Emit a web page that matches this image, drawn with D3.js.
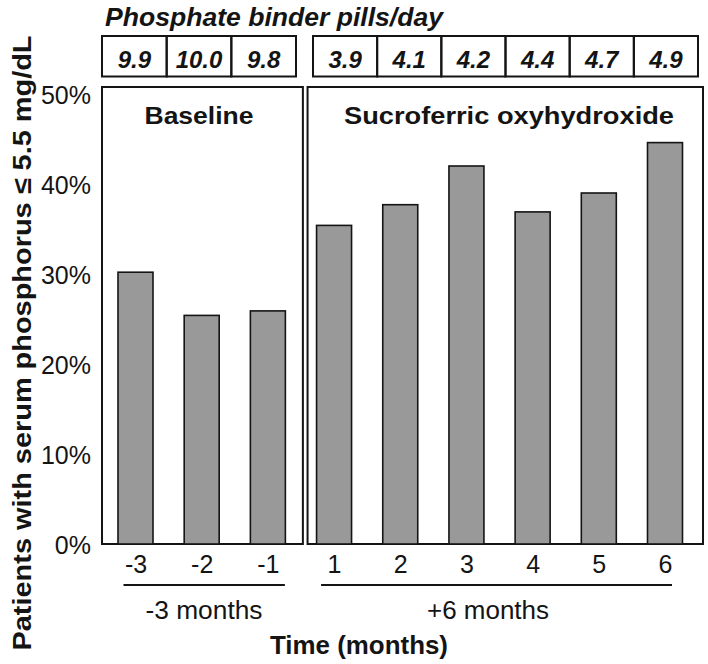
<!DOCTYPE html>
<html>
<head>
<meta charset="utf-8">
<script src="https://cdn.jsdelivr.net/npm/d3@7"></script>
<style>
  html, body { margin: 0; padding: 0; background: #fff; }
  svg { display: block; font-family: "Liberation Sans", Arial, Helvetica, sans-serif; }
</style>
</head>
<body>
<svg id="chart" width="708" height="664"></svg>
<script>
// ---- data ----
const baselineMonths = ["-3", "-2", "-1"];
const treatmentMonths = ["1", "2", "3", "4", "5", "6"];
const baselineValues = [30.2, 25.4, 25.9];
const treatmentValues = [35.4, 37.7, 42.0, 36.9, 39.0, 44.6];
const baselinePills = ["9.9", "10.0", "9.8"];
const treatmentPills = ["3.9", "4.1", "4.2", "4.4", "4.7", "4.9"];
const yTicks = [0, 10, 20, 30, 40, 50];
const panelTitles = ["Baseline", "Sucroferric oxyhydroxide"];
const periodLabels = ["-3 months", "+6 months"];
const pillsTitle = "Phosphate binder pills/day";
const yTitle = "Patients with serum phosphorus \u2264 5.5 mg/dL";
const xTitle = "Time (months)";

const svg = d3.select("#chart");
const ink = "#141414";

const allMonths = baselineMonths.concat(treatmentMonths);
const allValues = baselineValues.concat(treatmentValues);

const x = d3.scalePoint().domain(allMonths).range([135.5, 665]);
const y = d3.scaleLinear().domain([0, 50]).range([544, 94]);
const barW = 35;
const panelTop = y(50) - 7;

// panels
const panels = [
  {x0: x("-3") - 33.5, x1: x("-1") + 35, title: panelTitles[0], tx: 199, tl: 109},
  {x0: x("1") - 26.5, x1: x("6") + 38, title: panelTitles[1], tx: 509, tl: 330}
];
svg.selectAll("rect.panel").data(panels).join("rect")
  .attr("class", "panel")
  .attr("x", d => d.x0).attr("y", panelTop)
  .attr("width", d => d.x1 - d.x0).attr("height", y(0) - panelTop)
  .attr("fill", "none").attr("stroke", ink).attr("stroke-width", 2);

svg.selectAll("text.ptitle").data(panels).join("text")
  .attr("class", "ptitle")
  .attr("x", d => d.tx).attr("y", 124)
  .attr("text-anchor", "middle")
  .attr("font-size", 24).attr("font-weight", "bold").attr("fill", ink)
  .attr("textLength", d => d.tl).attr("lengthAdjust", "spacingAndGlyphs")
  .text(d => d.title);

// bars
svg.selectAll("rect.bar").data(allMonths.map((m, i) => ({m, v: allValues[i]}))).join("rect")
  .attr("class", "bar")
  .attr("x", d => x(d.m) - barW / 2)
  .attr("y", d => y(d.v))
  .attr("width", barW)
  .attr("height", d => y(0) - y(d.v))
  .attr("fill", "#999999").attr("stroke", ink).attr("stroke-width", 1.6);

// y axis labels
const yAxis = d3.axisLeft(y).tickValues(yTicks).tickSize(0).tickPadding(11)
  .tickFormat(d => d + "%");
const gy = svg.append("g").attr("transform", `translate(${x("-3") - 33.5},0)`).call(yAxis);
gy.select(".domain").remove();
gy.selectAll("text").attr("font-size", 25).attr("fill", ink)
  .attr("font-family", "Liberation Sans, Arial, sans-serif").attr("dy", "0.36em");

// x axis labels
const xAxis = d3.axisBottom(x).tickSize(0).tickPadding(11);
const gx = svg.append("g").attr("transform", `translate(0,${y(0)})`).call(xAxis);
gx.select(".domain").remove();
gx.selectAll("text").attr("font-size", 25).attr("fill", ink)
  .attr("font-family", "Liberation Sans, Arial, sans-serif");

// period brackets
const brackets = [
  {x0: x("-3") - 12, x1: x("-1") + 17, label: periodLabels[0], cx: 204, tl: 117},
  {x0: x("1") - 13, x1: x("6") + 7, label: periodLabels[1], cx: 488, tl: 122}
];
svg.selectAll("line.br").data(brackets).join("line")
  .attr("class", "br")
  .attr("x1", d => d.x0).attr("x2", d => d.x1)
  .attr("y1", 585).attr("y2", 585)
  .attr("stroke", ink).attr("stroke-width", 2);
svg.selectAll("text.br").data(brackets).join("text")
  .attr("class", "br")
  .attr("x", d => d.cx).attr("y", 619)
  .attr("text-anchor", "middle").attr("font-size", 25).attr("fill", ink)
  .attr("textLength", d => d.tl).attr("lengthAdjust", "spacingAndGlyphs")
  .text(d => d.label);

// x title
svg.append("text")
  .attr("x", 359).attr("y", 654)
  .attr("text-anchor", "middle").attr("font-size", 25).attr("font-weight", "bold").attr("fill", ink)
  .attr("textLength", 178).attr("lengthAdjust", "spacingAndGlyphs")
  .text(xTitle);

// y title
svg.append("text")
  .attr("transform", "translate(31,343) rotate(-90)")
  .attr("text-anchor", "middle").attr("font-size", 26).attr("font-weight", "bold").attr("fill", ink)
  .attr("textLength", 615).attr("lengthAdjust", "spacingAndGlyphs")
  .text(yTitle);

// pills title
svg.append("text")
  .attr("x", 105).attr("y", 26)
  .attr("font-size", 26).attr("font-weight", "bold").attr("font-style", "italic").attr("fill", ink)
  .attr("textLength", 338).attr("lengthAdjust", "spacingAndGlyphs")
  .text(pillsTitle);

// pill cells
const cellTop = 36, cellBottom = 76.5;
const groups = [
  {vals: baselinePills, range: [102, 296]},
  {vals: treatmentPills, range: [313, 698]}
];
groups.forEach(g => {
  const cs = d3.scaleBand().domain(g.vals.map((v, i) => i)).range(g.range);
  const gg = svg.append("g");
  gg.selectAll("rect").data(g.vals).join("rect")
    .attr("x", (d, i) => cs(i)).attr("y", cellTop)
    .attr("width", cs.bandwidth()).attr("height", cellBottom - cellTop)
    .attr("fill", "none").attr("stroke", ink).attr("stroke-width", 2);
  gg.selectAll("text").data(g.vals).join("text")
    .attr("x", (d, i) => cs(i) + cs.bandwidth() / 2).attr("y", 68)
    .attr("text-anchor", "middle").attr("font-size", 24)
    .attr("font-weight", "bold").attr("font-style", "italic").attr("fill", ink)
    .text(d => d);
});
</script>
</body>
</html>
